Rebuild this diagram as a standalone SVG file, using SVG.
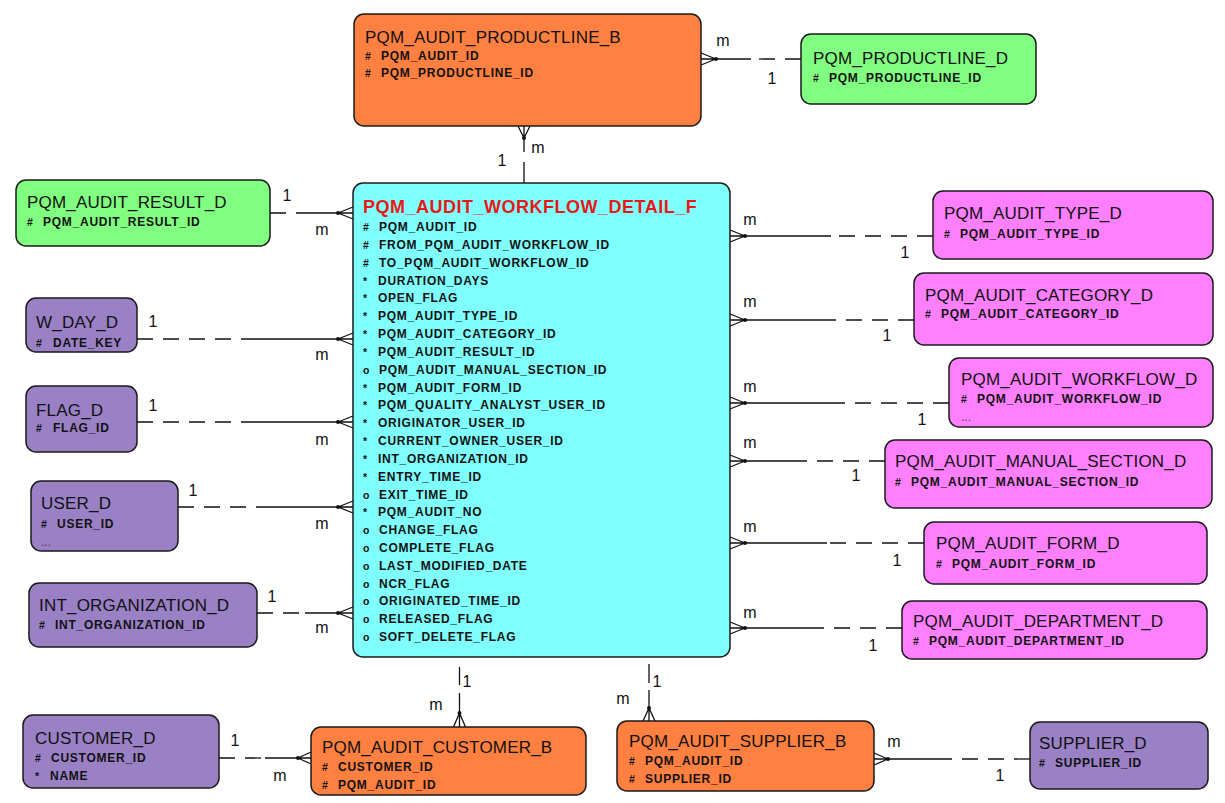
<svg xmlns="http://www.w3.org/2000/svg" width="1225" height="803" viewBox="0 0 1225 803">
<style>
.box{stroke:#1a1a1a;stroke-width:1.5}
.fact{fill:#80ffff}
.org{fill:#ff8040}
.grn{fill:#80ff80}
.pur{fill:#9a80c4}
.mag{fill:#ff80ff}
.t{font-family:"Liberation Sans",Arial,sans-serif;font-size:17px;fill:#111;letter-spacing:0.2px}
.ft{font-family:"Liberation Sans",Arial,sans-serif;font-size:18px;font-weight:bold;fill:#e81818;letter-spacing:0.5px}
.a{font-family:"Liberation Sans",Arial,sans-serif;font-size:12px;font-weight:bold;fill:#111;letter-spacing:0.75px}
.a tspan:first-child{font-size:10.5px}
.dots{font-family:"Liberation Sans",Arial,sans-serif;font-size:12px;fill:#444}
.l{font-family:"Liberation Sans",Arial,sans-serif;font-size:16px;fill:#111;text-anchor:middle}
.c{stroke:#111;stroke-width:1.3;fill:none}
.d{stroke:#111;stroke-width:1.3;fill:none;stroke-dasharray:16 10}
.dot{fill:#111}
</style>

<g id="connectors">
  <path class="c" d="M701,59 H751 M716,59 L701,53 M716,59 L701,65"/><line class="d" x1="801" y1="59" x2="751" y2="59"/><circle class="dot" cx="716" cy="59" r="2"/>
  <path class="c" d="M524,126 V152 M524,162 V183 M524,138 L518,126 M524,138 L530,126"/><circle class="dot" cx="524" cy="138" r="2"/>
  <path class="c" d="M311,213 H353 M338,213 L353,207 M338,213 L353,219"/><line class="d" x1="270" y1="213" x2="311" y2="213"/><circle class="dot" cx="338" cy="213" r="2"/>
  <path class="c" d="M245,339 H353 M338,339 L353,333 M338,339 L353,345"/><line class="d" x1="137" y1="339" x2="245" y2="339"/><circle class="dot" cx="338" cy="339" r="2"/>
  <path class="c" d="M245,422 H353 M338,422 L353,416 M338,422 L353,428"/><line class="d" x1="137" y1="422" x2="245" y2="422"/><circle class="dot" cx="338" cy="422" r="2"/>
  <path class="c" d="M265,507 H353 M338,507 L353,501 M338,507 L353,513"/><line class="d" x1="178" y1="507" x2="265" y2="507"/><circle class="dot" cx="338" cy="507" r="2"/>
  <path class="c" d="M305,613 H353 M338,613 L353,607 M338,613 L353,619"/><line class="d" x1="257" y1="613" x2="305" y2="613"/><circle class="dot" cx="338" cy="613" r="2"/>
  <path class="c" d="M831,236 H730 M745,236 L730,230 M745,236 L730,242"/><line class="d" x1="933" y1="236" x2="831" y2="236"/><circle class="dot" cx="745" cy="236" r="2"/>
  <path class="c" d="M822,320 H730 M745,320 L730,314 M745,320 L730,326"/><line class="d" x1="914" y1="320" x2="822" y2="320"/><circle class="dot" cx="745" cy="320" r="2"/>
  <path class="c" d="M840,403 H730 M745,403 L730,397 M745,403 L730,409"/><line class="d" x1="949" y1="403" x2="840" y2="403"/><circle class="dot" cx="745" cy="403" r="2"/>
  <path class="c" d="M807,461 H730 M745,461 L730,455 M745,461 L730,467"/><line class="d" x1="885" y1="461" x2="807" y2="461"/><circle class="dot" cx="745" cy="461" r="2"/>
  <path class="c" d="M827,543 H730 M745,543 L730,537 M745,543 L730,549"/><line class="d" x1="924" y1="543" x2="827" y2="543"/><circle class="dot" cx="745" cy="543" r="2"/>
  <path class="c" d="M816,628 H730 M745,628 L730,622 M745,628 L730,634"/><line class="d" x1="902" y1="628" x2="816" y2="628"/><circle class="dot" cx="745" cy="628" r="2"/>
  <path class="c" d="M459.5,667 V685 M459.5,693 V727 M459.5,713 L453.5,727 M459.5,713 L465.5,727"/><circle class="dot" cx="459.5" cy="713" r="2"/>
  <path class="c" d="M649,664 V683 M649,690 V721 M649,708 L643,721 M649,708 L655,721"/><circle class="dot" cx="649" cy="708" r="2"/>
  <path class="c" d="M265,758 H311 M298,758 L311,752 M298,758 L311,764"/><line class="d" x1="219" y1="758" x2="265" y2="758"/><circle class="dot" cx="298" cy="758" r="2"/>
  <path class="c" d="M952,759 H874 M888,759 L874,753 M888,759 L874,765"/><line class="d" x1="1030" y1="759" x2="952" y2="759"/><circle class="dot" cx="888" cy="759" r="2"/>
  <text class="l" x="723" y="46">m</text><text class="l" x="772" y="84">1</text>
  <text class="l" x="538" y="153">m</text><text class="l" x="502" y="166">1</text>
  <text class="l" x="287" y="201">1</text><text class="l" x="322" y="235">m</text>
  <text class="l" x="153" y="327">1</text><text class="l" x="322" y="360">m</text>
  <text class="l" x="153" y="411">1</text><text class="l" x="322" y="445">m</text>
  <text class="l" x="193" y="496">1</text><text class="l" x="322" y="529">m</text>
  <text class="l" x="272" y="602">1</text><text class="l" x="322" y="633">m</text>
  <text class="l" x="750" y="225">m</text><text class="l" x="905" y="258">1</text>
  <text class="l" x="750" y="307">m</text><text class="l" x="887" y="341">1</text>
  <text class="l" x="750" y="392">m</text><text class="l" x="922" y="425">1</text>
  <text class="l" x="750" y="448">m</text><text class="l" x="856" y="481">1</text>
  <text class="l" x="750" y="532">m</text><text class="l" x="897" y="566">1</text>
  <text class="l" x="750" y="618">m</text><text class="l" x="873" y="651">1</text>
  <text class="l" x="467" y="687">1</text><text class="l" x="436" y="710">m</text>
  <text class="l" x="657" y="687">1</text><text class="l" x="623" y="704">m</text>
  <text class="l" x="235" y="746">1</text><text class="l" x="280" y="781">m</text>
  <text class="l" x="894" y="747">m</text><text class="l" x="1000" y="781">1</text>
</g>

<g id="fact">
  <rect class="box fact" x="353" y="183" width="377" height="474" rx="10"/>
  <text class="ft" x="363" y="213">PQM_AUDIT_WORKFLOW_DETAIL_F</text>
  <g class="a">
    <text y="231"><tspan x="363">#</tspan><tspan x="379">PQM_AUDIT_ID</tspan></text>
    <text y="248.8"><tspan x="363">#</tspan><tspan x="379">FROM_PQM_AUDIT_WORKFLOW_ID</tspan></text>
    <text y="266.7"><tspan x="363">#</tspan><tspan x="379">TO_PQM_AUDIT_WORKFLOW_ID</tspan></text>
    <text y="284.5"><tspan x="363">*</tspan><tspan x="378">DURATION_DAYS</tspan></text>
    <text y="302.3"><tspan x="363">*</tspan><tspan x="378">OPEN_FLAG</tspan></text>
    <text y="320.2"><tspan x="363">*</tspan><tspan x="378">PQM_AUDIT_TYPE_ID</tspan></text>
    <text y="338"><tspan x="363">*</tspan><tspan x="378">PQM_AUDIT_CATEGORY_ID</tspan></text>
    <text y="355.8"><tspan x="363">*</tspan><tspan x="378">PQM_AUDIT_RESULT_ID</tspan></text>
    <text y="373.6"><tspan x="363">o</tspan><tspan x="379">PQM_AUDIT_MANUAL_SECTION_ID</tspan></text>
    <text y="391.5"><tspan x="363">*</tspan><tspan x="378">PQM_AUDIT_FORM_ID</tspan></text>
    <text y="409.3"><tspan x="363">*</tspan><tspan x="378">PQM_QUALITY_ANALYST_USER_ID</tspan></text>
    <text y="427.1"><tspan x="363">*</tspan><tspan x="378">ORIGINATOR_USER_ID</tspan></text>
    <text y="445"><tspan x="363">*</tspan><tspan x="378">CURRENT_OWNER_USER_ID</tspan></text>
    <text y="462.8"><tspan x="363">*</tspan><tspan x="378">INT_ORGANIZATION_ID</tspan></text>
    <text y="480.6"><tspan x="363">*</tspan><tspan x="378">ENTRY_TIME_ID</tspan></text>
    <text y="498.5"><tspan x="363">o</tspan><tspan x="379">EXIT_TIME_ID</tspan></text>
    <text y="516.3"><tspan x="363">*</tspan><tspan x="378">PQM_AUDIT_NO</tspan></text>
    <text y="534.1"><tspan x="363">o</tspan><tspan x="379">CHANGE_FLAG</tspan></text>
    <text y="551.9"><tspan x="363">o</tspan><tspan x="379">COMPLETE_FLAG</tspan></text>
    <text y="569.8"><tspan x="363">o</tspan><tspan x="379">LAST_MODIFIED_DATE</tspan></text>
    <text y="587.6"><tspan x="363">o</tspan><tspan x="379">NCR_FLAG</tspan></text>
    <text y="605.4"><tspan x="363">o</tspan><tspan x="379">ORIGINATED_TIME_ID</tspan></text>
    <text y="623.3"><tspan x="363">o</tspan><tspan x="379">RELEASED_FLAG</tspan></text>
    <text y="641.1"><tspan x="363">o</tspan><tspan x="379">SOFT_DELETE_FLAG</tspan></text>
  </g>
</g>

<g id="pqm_audit_productline_b">
  <rect class="box org" x="354" y="14" width="347" height="112" rx="10"/>
  <text class="t" x="365" y="43">PQM_AUDIT_PRODUCTLINE_B</text>
  <text class="a" y="60"><tspan x="365">#</tspan><tspan x="381">PQM_AUDIT_ID</tspan></text>
  <text class="a" y="77"><tspan x="365">#</tspan><tspan x="381">PQM_PRODUCTLINE_ID</tspan></text>
</g>

<g id="pqm_productline_d">
  <rect class="box grn" x="801" y="34" width="235" height="70" rx="10"/>
  <text class="t" x="813" y="64">PQM_PRODUCTLINE_D</text>
  <text class="a" y="82"><tspan x="813">#</tspan><tspan x="829">PQM_PRODUCTLINE_ID</tspan></text>
</g>

<g id="pqm_audit_result_d">
  <rect class="box grn" x="16" y="180" width="254" height="66" rx="10"/>
  <text class="t" x="27" y="208">PQM_AUDIT_RESULT_D</text>
  <text class="a" y="226"><tspan x="27">#</tspan><tspan x="43">PQM_AUDIT_RESULT_ID</tspan></text>
</g>

<g id="w_day_d">
  <rect class="box pur" x="26" y="298" width="111" height="54" rx="10"/>
  <text class="t" x="36" y="328">W_DAY_D</text>
  <text class="a" y="347"><tspan x="36">#</tspan><tspan x="53">DATE_KEY</tspan></text>
</g>

<g id="flag_d">
  <rect class="box pur" x="26" y="386" width="111" height="66" rx="10"/>
  <text class="t" x="36" y="416">FLAG_D</text>
  <text class="a" y="432"><tspan x="36">#</tspan><tspan x="53">FLAG_ID</tspan></text>
</g>

<g id="user_d">
  <rect class="box pur" x="31" y="481" width="147" height="70" rx="10"/>
  <text class="t" x="41" y="509">USER_D</text>
  <text class="a" y="528"><tspan x="41">#</tspan><tspan x="57">USER_ID</tspan></text>
  <text class="dots" x="41" y="546">...</text>
</g>

<g id="int_organization_d">
  <rect class="box pur" x="29" y="583" width="228" height="64" rx="10"/>
  <text class="t" x="39" y="611">INT_ORGANIZATION_D</text>
  <text class="a" y="629"><tspan x="39">#</tspan><tspan x="55">INT_ORGANIZATION_ID</tspan></text>
</g>

<g id="customer_d">
  <rect class="box pur" x="23" y="715" width="196" height="73" rx="10"/>
  <text class="t" x="35" y="744">CUSTOMER_D</text>
  <text class="a" y="762"><tspan x="35">#</tspan><tspan x="51">CUSTOMER_ID</tspan></text>
  <text class="a" y="780"><tspan x="35">*</tspan><tspan x="50">NAME</tspan></text>
</g>

<g id="pqm_audit_customer_b">
  <rect class="box org" x="311" y="727" width="275" height="68" rx="10"/>
  <text class="t" x="322" y="753">PQM_AUDIT_CUSTOMER_B</text>
  <text class="a" y="771"><tspan x="322">#</tspan><tspan x="338">CUSTOMER_ID</tspan></text>
  <text class="a" y="789"><tspan x="322">#</tspan><tspan x="338">PQM_AUDIT_ID</tspan></text>
</g>

<g id="pqm_audit_supplier_b">
  <rect class="box org" x="617" y="721" width="257" height="70" rx="10"/>
  <text class="t" x="629" y="747">PQM_AUDIT_SUPPLIER_B</text>
  <text class="a" y="765"><tspan x="629">#</tspan><tspan x="645">PQM_AUDIT_ID</tspan></text>
  <text class="a" y="783"><tspan x="629">#</tspan><tspan x="645">SUPPLIER_ID</tspan></text>
</g>

<g id="supplier_d">
  <rect class="box pur" x="1030" y="722" width="178" height="67" rx="10"/>
  <text class="t" x="1039" y="749">SUPPLIER_D</text>
  <text class="a" y="767"><tspan x="1039">#</tspan><tspan x="1055">SUPPLIER_ID</tspan></text>
</g>

<g id="pqm_audit_type_d">
  <rect class="box mag" x="933" y="191" width="280" height="68" rx="10"/>
  <text class="t" x="944" y="219">PQM_AUDIT_TYPE_D</text>
  <text class="a" y="238"><tspan x="944">#</tspan><tspan x="960">PQM_AUDIT_TYPE_ID</tspan></text>
</g>

<g id="pqm_audit_category_d">
  <rect class="box mag" x="914" y="273" width="299" height="72" rx="10"/>
  <text class="t" x="925" y="301">PQM_AUDIT_CATEGORY_D</text>
  <text class="a" y="318"><tspan x="925">#</tspan><tspan x="941">PQM_AUDIT_CATEGORY_ID</tspan></text>
</g>

<g id="pqm_audit_workflow_d">
  <rect class="box mag" x="949" y="358" width="264" height="69" rx="10"/>
  <text class="t" x="961" y="385">PQM_AUDIT_WORKFLOW_D</text>
  <text class="a" y="403"><tspan x="961">#</tspan><tspan x="977">PQM_AUDIT_WORKFLOW_ID</tspan></text>
  <text class="dots" x="961" y="421">...</text>
</g>

<g id="pqm_audit_manual_section_d">
  <rect class="box mag" x="885" y="440" width="327" height="68" rx="10"/>
  <text class="t" x="895" y="467">PQM_AUDIT_MANUAL_SECTION_D</text>
  <text class="a" y="486"><tspan x="895">#</tspan><tspan x="911">PQM_AUDIT_MANUAL_SECTION_ID</tspan></text>
</g>

<g id="pqm_audit_form_d">
  <rect class="box mag" x="924" y="522" width="283" height="62" rx="10"/>
  <text class="t" x="936" y="549">PQM_AUDIT_FORM_D</text>
  <text class="a" y="568"><tspan x="936">#</tspan><tspan x="952">PQM_AUDIT_FORM_ID</tspan></text>
</g>

<g id="pqm_audit_department_d">
  <rect class="box mag" x="902" y="601" width="305" height="58" rx="10"/>
  <text class="t" x="913" y="627">PQM_AUDIT_DEPARTMENT_D</text>
  <text class="a" y="645"><tspan x="913">#</tspan><tspan x="929">PQM_AUDIT_DEPARTMENT_ID</tspan></text>
</g>
</svg>
